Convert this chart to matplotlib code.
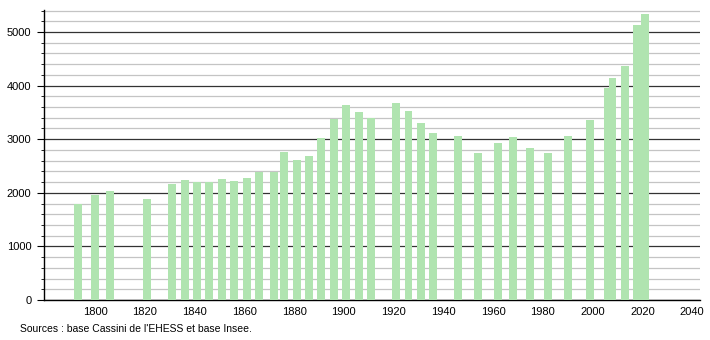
import matplotlib
matplotlib.use("Agg")
import matplotlib.pyplot as plt
from matplotlib.ticker import MultipleLocator

years = [1793, 1800, 1806, 1821, 1831, 1836, 1841, 1846, 1851, 1856,
         1861, 1866, 1872, 1876, 1881, 1886, 1891, 1896, 1901, 1906,
         1911, 1921, 1926, 1931, 1936, 1946, 1954, 1962, 1968, 1975,
         1982, 1990, 1999, 2006, 2008, 2013, 2018, 2021]
population = [1790, 1965, 2034, 1884, 2164, 2239, 2201, 2201, 2257, 2220,
              2276, 2388, 2388, 2761, 2612, 2687, 3022, 3377, 3638, 3507,
              3396, 3675, 3526, 3302, 3116, 3060, 2743, 2929, 3041, 2836,
              2743, 3060, 3358, 3955, 4142, 4366, 5131, 5336]

plt.rcParams['font.family'] = ['Liberation Sans', 'DejaVu Sans']

fig = plt.figure(figsize=(7.1, 3.4), dpi=100)
ax = fig.add_axes([0.062, 0.1176, 0.924, 0.853])

ax.bar(years, population, width=3.2, color="#b0e4b0", zorder=3)

ax.set_xlim(1779.5, 2043.2)
ax.set_ylim(0, 5410)
ax.set_xticks(range(1800, 2041, 20))
ax.yaxis.set_major_locator(MultipleLocator(1000))
ax.yaxis.set_minor_locator(MultipleLocator(200))

ax.grid(which="major", axis="y", color="#333333", linewidth=0.9, zorder=1)
ax.grid(which="minor", axis="y", color="#c4c4c4", linewidth=0.9, zorder=0)

for s in ["top", "right"]:
    ax.spines[s].set_visible(False)
ax.spines["left"].set_linewidth(1.0)
ax.spines["bottom"].set_linewidth(1.0)

ax.tick_params(axis="x", length=0, labelsize=8, pad=5)
ax.tick_params(axis="y", which="major", length=5, labelsize=8, pad=4)
ax.tick_params(axis="y", which="minor", length=2)

fig.text(0.028, 0.025, "Sources : base Cassini de l'EHESS et base Insee.", fontsize=7.5)

fig.savefig("out.png", dpi=100)
